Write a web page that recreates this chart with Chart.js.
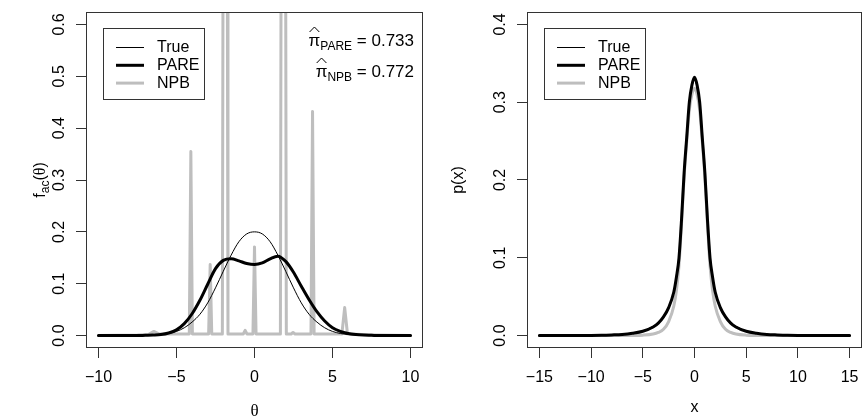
<!DOCTYPE html>
<html>
<head>
<meta charset="utf-8">
<script src="https://cdn.jsdelivr.net/npm/chart.js@4.4.0/dist/chart.umd.min.js"></script>
<style>
  html, body { margin: 0; padding: 0; background: #fff; }
  #wrap { position: relative; width: 863px; height: 419px; }
  canvas { position: absolute; top: 0; }
  #chartLeft { left: 0; }
  #chartRight { left: 431px; }
</style>
</head>
<body>
<div id="wrap">
  <canvas id="chartLeft" width="431" height="419"></canvas>
  <canvas id="chartRight" width="432" height="419"></canvas>
</div>
<script>
const FONT = "'Liberation Sans', Arial, Helvetica, sans-serif";
const SERIF = "'Liberation Serif', 'DejaVu Serif', serif";
Chart.defaults.font.family = FONT;
Chart.defaults.font.size = 16;
Chart.defaults.color = '#000';

const BLACK = '#000';
const GREY = '#bebebe';

// ---- left panel: f_ac(theta) ----
const thetaGrid = [-10, -9.5, -9, -8.5, -8, -7.5, -7, -6.5, -6, -5.5, -5, -4.5, -4, -3.5, -3, -2.5, -2, -1.5, -1, -0.5,
  0, 0.5, 1, 1.5, 2, 2.5, 3, 3.5, 4, 4.5, 5, 5.5, 6, 6.5, 7, 7.5, 8, 8.5, 9, 9.5, 10];
const trueLeft = [0, 0, 0, 0, 0, 0.0001, 0.0004, 0.001, 0.002, 0.004, 0.008, 0.015, 0.026, 0.041, 0.063, 0.092, 0.124, 0.155, 0.181, 0.196,
  0.200, 0.196, 0.181, 0.155, 0.124, 0.092, 0.063, 0.041, 0.026, 0.015, 0.008, 0.004, 0.002, 0.001, 0.0004, 0.0001, 0, 0, 0, 0, 0];
const pareLeft = [0, 0, 0, 0, 0, 0, 0.0005, 0.001, 0.002, 0.005, 0.011, 0.023, 0.042, 0.068, 0.099, 0.129, 0.145, 0.148, 0.144, 0.139,
  0.137, 0.140, 0.148, 0.153, 0.143, 0.122, 0.095, 0.069, 0.046, 0.028, 0.015, 0.008, 0.004, 0.002, 0.001, 0.0005, 0, 0, 0, 0, 0];
// NPB estimate is spiky: vertices
const npbThetaLeft = [-10, -7.5, -6.8, -6.45, -6.1, -4.18, -4.08, -3.98, -2.94, -2.84, -2.74, -2.06, -2.0, -1.76, -1.7,
  -0.72, -0.6, -0.48, -0.1, 0, 0.1, 1.66, 1.72, 1.98, 2.04, 2.35, 2.47, 2.6, 3.62, 3.72, 3.82, 5.6, 5.78, 5.96, 7.8, 10];
const npbLeft = [0, 0.001, 0.002, 0.008, 0.003, 0.003, 0.355, 0.003, 0.003, 0.137, 0.003, 0.003, 1.0, 1.0, 0.003,
  0.003, 0.01, 0.003, 0.003, 0.171, 0.003, 0.003, 1.0, 1.0, 0.003, 0.003, 0.006, 0.003, 0.003, 0.432, 0.003, 0.003, 0.054, 0.003, 0.001, 0];
const thetaTicks = [-10, -5, 0, 5, 10];
const facTicks = [0, 0.1, 0.2, 0.3, 0.4, 0.5, 0.6];
const piPare = 0.733;
const piNpb = 0.772;

// ---- right panel: p(x) ----
const xGrid = [-15, -12, -10, -9, -8, -7, -6, -5, -4, -3.5, -3, -2.5, -2, -1.75, -1.5, -1.25, -1, -0.75, -0.5, -0.25,
  0, 0.25, 0.5, 0.75, 1, 1.25, 1.5, 1.75, 2, 2.5, 3, 3.5, 4, 5, 6, 7, 8, 9, 10, 12, 15];
const trueRight = [0, 0, 0.0001, 0.0003, 0.0008, 0.0015, 0.003, 0.006, 0.012, 0.017, 0.025, 0.037, 0.057, 0.076, 0.101, 0.150, 0.208, 0.253, 0.297, 0.319,
  0.329, 0.319, 0.297, 0.253, 0.208, 0.150, 0.101, 0.076, 0.057, 0.037, 0.025, 0.017, 0.012, 0.006, 0.003, 0.0015, 0.0008, 0.0003, 0.0001, 0, 0];
const pareRight = [0, 0, 0.0001, 0.0003, 0.0008, 0.0015, 0.003, 0.0055, 0.011, 0.016, 0.024, 0.036, 0.056, 0.075, 0.100, 0.150, 0.210, 0.255, 0.300, 0.322,
  0.332, 0.322, 0.300, 0.255, 0.210, 0.150, 0.100, 0.075, 0.056, 0.036, 0.024, 0.016, 0.011, 0.0055, 0.003, 0.0015, 0.0008, 0.0003, 0.0001, 0, 0];
const npbRight = [0, 0, 0, 0, 0, 0, 0.0001, 0.0005, 0.002, 0.004, 0.008, 0.018, 0.038, 0.058, 0.090, 0.145, 0.205, 0.250, 0.290, 0.310,
  0.318, 0.310, 0.290, 0.250, 0.205, 0.145, 0.090, 0.058, 0.038, 0.018, 0.008, 0.004, 0.002, 0.0005, 0.0001, 0, 0, 0, 0, 0, 0];
const xTicks = [-15, -10, -5, 0, 5, 10, 15];
const pxTicks = [0, 0.1, 0.2, 0.3, 0.4];

const pts = (xs, ys) => xs.map((x, i) => ({ x: x, y: ys[i] }));
const minus = v => v < 0 ? '\u2212' + Math.abs(v) : String(v);

// draw a run of text pieces (for sub/superscripts), anchored left, centre or right
function drawPieces(ctx, pieces, x, y, align) {
  let total = 0;
  pieces.forEach(p => { ctx.font = p.font; p.w = ctx.measureText(p.t).width; total += p.w; });
  let cx = align === 'right' ? x - total : align === 'center' ? x - total / 2 : x;
  pieces.forEach(p => {
    ctx.font = p.font;
    ctx.fillText(p.t, cx, y + (p.dy || 0));
    p.x = cx;
    cx += p.w;
  });
  return pieces;
}

// R style box around the plot region
const plotBox = {
  id: 'plotBox',
  afterDraw(chart) {
    const { ctx, chartArea: a } = chart;
    ctx.save();
    ctx.strokeStyle = '#333';
    ctx.lineWidth = 1;
    ctx.strokeRect(Math.round(a.left) + 0.5, Math.round(a.top) + 0.5, Math.round(a.right - a.left) - 1, Math.round(a.bottom - a.top) - 1);
    ctx.restore();
  }
};

// R style legend box, top left inside the plot
const rLegend = {
  id: 'rLegend',
  afterDraw(chart) {
    const { ctx, chartArea: a } = chart;
    const x0 = Math.round(a.left + 17), y0 = Math.round(a.top + 16);
    ctx.save();
    ctx.strokeStyle = '#333';
    ctx.lineWidth = 1;
    ctx.strokeRect(x0 + 0.5, y0 + 0.5, 101, 71);
    ctx.font = '16px ' + FONT;
    ctx.textBaseline = 'middle';
    ctx.fillStyle = '#000';
    chart.data.datasets.forEach((ds, i) => {
      const y = y0 + 19.5 + i * 17.8;
      ctx.strokeStyle = ds.borderColor;
      ctx.lineWidth = ds.borderWidth;
      ctx.beginPath();
      ctx.moveTo(x0 + 13, y);
      ctx.lineTo(x0 + 41, y);
      ctx.stroke();
      ctx.fillText(ds.label, x0 + 54, y);
    });
    ctx.restore();
  }
};

// pi-hat annotations in the left panel
const piLabels = {
  id: 'piLabels',
  afterDraw(chart) {
    const { ctx, chartArea: a } = chart;
    const rows = [['PARE', piPare, a.top + 34], ['NPB', piNpb, a.top + 65]];
    ctx.save();
    ctx.fillStyle = '#000';
    ctx.textBaseline = 'alphabetic';
    rows.forEach(r => {
      const ps = drawPieces(ctx, [
        { t: '\u03c0', font: '17px ' + FONT },
        { t: r[0], font: '12px ' + FONT, dy: 4 },
        { t: ' = ' + r[1].toFixed(3), font: '17px ' + FONT }
      ], a.right - 9, r[2], 'right');
      const p = ps[0];
      ctx.strokeStyle = '#000';
      ctx.lineWidth = 1;
      ctx.beginPath();
      ctx.moveTo(p.x + 1, r[2] - 14);
      ctx.lineTo(p.x + p.w / 2, r[2] - 19);
      ctx.lineTo(p.x + p.w - 1, r[2] - 14);
      ctx.stroke();
    });
    ctx.restore();
  }
};

// y title f_ac(theta) with subscript, rotated
const facTitle = {
  id: 'facTitle',
  afterDraw(chart) {
    const { ctx, chartArea: a } = chart;
    ctx.save();
    ctx.translate(39, (a.top + a.bottom) / 2);
    ctx.rotate(-Math.PI / 2);
    ctx.fillStyle = '#000';
    ctx.textBaseline = 'alphabetic';
    drawPieces(ctx, [
      { t: 'f', font: '16px ' + FONT },
      { t: 'ac', font: '12px ' + FONT, dy: 4 },
      { t: '(', font: '16px ' + FONT },
      { t: '\u03b8', font: '16px ' + SERIF },
      { t: ')', font: '16px ' + FONT }
    ], 0, 6, 'center');
    ctx.restore();
  }
};

function makeScales(o) {
  return {
    x: {
      type: 'linear', min: o.xMin, max: o.xMax,
      afterBuildTicks: s => { s.ticks = o.xTicks.map(v => ({ value: v })); },
      afterFit: s => { s.height = 71; s.paddingLeft = 0; s.paddingRight = 0; },
      grid: { drawOnChartArea: false, drawTicks: true, tickLength: 10, color: '#333' },
      border: { display: false },
      ticks: { padding: 10, maxRotation: 0, autoSkip: false, callback: v => minus(v) },
      title: { display: true, text: o.xTitle, font: o.xTitleFont, padding: { top: 0, bottom: o.xTitlePad } }
    },
    y: {
      type: 'linear', min: o.yMin, max: o.yMax,
      afterBuildTicks: s => { s.ticks = o.yTicks.map(v => ({ value: v })); },
      afterFit: s => { s.width = o.yWidth; s.paddingTop = 0; s.paddingBottom = 0; },
      grid: { drawOnChartArea: false, drawTicks: true, tickLength: 10, color: '#333' },
      border: { display: false },
      ticks: { padding: 5, minRotation: 90, maxRotation: 90, crossAlign: 'center', autoSkip: false, callback: v => v.toFixed(1) },
      title: { display: !!o.yTitle, text: o.yTitle || '', padding: { top: 18.4, bottom: 0 } }
    }
  };
}

const common = {
  responsive: false,
  animation: false,
  events: [],
  plugins: { legend: { display: false }, tooltip: { enabled: false } },
  elements: { point: { radius: 0 }, line: { borderJoinStyle: 'round', borderCapStyle: 'round' } }
};

new Chart(document.getElementById('chartLeft'), {
  type: 'line',
  data: {
    datasets: [
      { label: 'True', data: pts(thetaGrid, trueLeft), borderColor: BLACK, borderWidth: 1, cubicInterpolationMode: 'monotone', clip: 0 },
      { label: 'PARE', data: pts(thetaGrid, pareLeft), borderColor: BLACK, borderWidth: 3, cubicInterpolationMode: 'monotone', clip: 0 },
      { label: 'NPB', data: pts(npbThetaLeft, npbLeft), borderColor: GREY, borderWidth: 3, tension: 0, clip: 0 }
    ]
  },
  options: Object.assign({}, common, {
    layout: { padding: { left: 0, right: 8, top: 12, bottom: 0 } },
    scales: makeScales({
      xMin: -10.8, xMax: 10.8, xTicks: thetaTicks, xTitle: '\u03b8', xTitleFont: { family: SERIF, size: 17 }, xTitlePad: -3,
      yMin: -0.024, yMax: 0.624, yTicks: facTicks, yWidth: 86
    })
  }),
  plugins: [plotBox, rLegend, piLabels, facTitle]
});

new Chart(document.getElementById('chartRight'), {
  type: 'line',
  data: {
    datasets: [
      { label: 'True', data: pts(xGrid, trueRight), borderColor: BLACK, borderWidth: 1, cubicInterpolationMode: 'monotone', clip: 0 },
      { label: 'PARE', data: pts(xGrid, pareRight), borderColor: BLACK, borderWidth: 3, cubicInterpolationMode: 'monotone', clip: 0 },
      { label: 'NPB', data: pts(xGrid, npbRight), borderColor: GREY, borderWidth: 3, cubicInterpolationMode: 'monotone', clip: 0 }
    ]
  },
  options: Object.assign({}, common, {
    layout: { padding: { left: 0, right: 1, top: 12, bottom: 0 } },
    scales: makeScales({
      xMin: -16.2, xMax: 16.2, xTicks: xTicks, xTitle: 'x', xTitlePad: 2,
      yMin: -0.016, yMax: 0.416, yTicks: pxTicks, yWidth: 96, yTitle: 'p(x)'
    })
  }),
  plugins: [plotBox, rLegend]
});
</script>
</body>
</html>
